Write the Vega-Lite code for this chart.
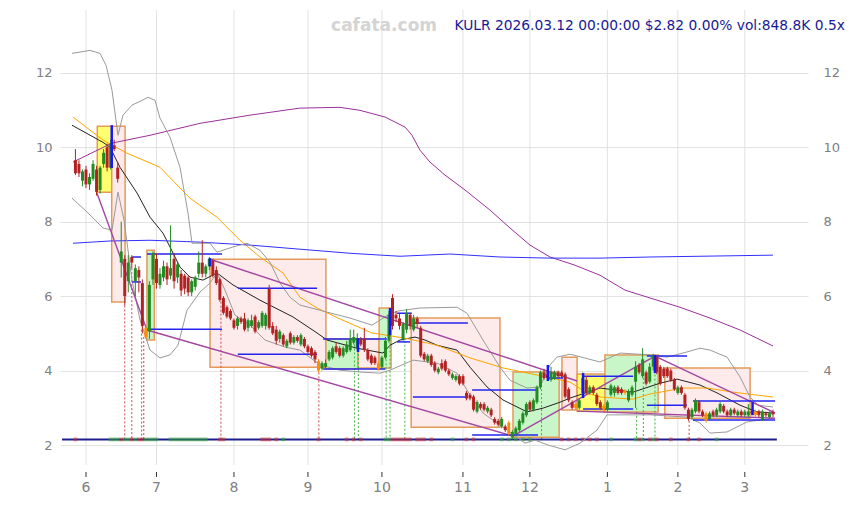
{
"$schema": "https://vega.github.io/schema/vega-lite/v6.json",
"width": 748, "height": 455,
"autosize": {"type": "none"},
"padding": {"left": 60, "top": 10, "right": 46, "bottom": 40},
"background": "white",
"config": {"view": {"stroke": null}, "font": "DejaVu Sans", "scale": {"continuousPadding": 0}},
"datasets": {
"months": [{"k":0,"m":"6"},{"k":20,"m":"7"},{"k":42,"m":"8"},{"k":63,"m":"9"},{"k":84,"m":"10"},{"k":107,"m":"11"},{"k":126,"m":"12"},{"k":148,"m":"1"},{"k":168,"m":"2"},{"k":187,"m":"3"}],
"candles": [
{"k":-3,"o":9.65,"h":9.95,"l":9.25,"c":9.3},{"k":-2,"o":9.55,"h":9.65,"l":9.2,"c":9.3},{"k":-1,"o":9.1,"h":9.4,"l":8.95,"c":9.35},{"k":0,"o":9.4,"h":9.5,"l":8.9,"c":9.0},{"k":1,"o":9.0,"h":9.3,"l":8.85,"c":9.2},{"k":2,"o":9.15,"h":9.65,"l":9.1,"c":9.55},{"k":3,"o":9.4,"h":9.5,"l":8.7,"c":8.8},{"k":4,"o":8.85,"h":9.5,"l":8.75,"c":9.45},{"k":5,"o":9.55,"h":9.95,"l":9.45,"c":9.85},{"k":6,"o":10.0,"h":10.1,"l":9.35,"c":9.45},{"k":7,"o":9.45,"h":10.2,"l":9.4,"c":10.1},{"k":8,"o":10.05,"h":10.2,"l":9.9,"c":9.95},{"k":9,"o":9.45,"h":9.6,"l":9.05,"c":9.15},
{"k":10,"o":6.9,"h":8.0,"l":6.5,"c":7.2},{"k":11,"o":7.0,"h":7.1,"l":5.75,"c":6.0},{"k":12,"o":6.4,"h":7.1,"l":6.1,"c":6.9},{"k":13,"o":7.05,"h":7.1,"l":6.75,"c":6.9},{"k":14,"o":6.4,"h":6.85,"l":6.0,"c":6.75},{"k":15,"o":6.7,"h":6.8,"l":6.1,"c":6.5},{"k":16,"o":6.35,"h":6.45,"l":5.0,"c":5.2},{"k":17,"o":5.15,"h":5.2,"l":4.85,"c":4.9,"x":1},{"k":18,"o":5.05,"h":6.4,"l":4.85,"c":6.3},{"k":19,"o":6.45,"h":7.2,"l":6.3,"c":7.15},
{"k":20,"o":7.0,"h":7.15,"l":6.2,"c":6.35},{"k":21,"o":6.3,"h":6.75,"l":6.2,"c":6.6},{"k":22,"o":6.5,"h":6.95,"l":6.4,"c":6.8},{"k":23,"o":6.8,"h":6.9,"l":6.3,"c":6.45},{"k":24,"o":6.55,"h":7.9,"l":6.45,"c":6.75},{"k":25,"o":7.0,"h":7.15,"l":6.2,"c":6.4},{"k":26,"o":6.5,"h":6.9,"l":6.35,"c":6.85},{"k":27,"o":6.6,"h":6.7,"l":6.0,"c":6.15},{"k":28,"o":6.55,"h":6.6,"l":6.05,"c":6.2},{"k":29,"o":6.5,"h":6.55,"l":6.0,"c":6.1},
{"k":30,"o":6.1,"h":6.45,"l":6.0,"c":6.4},{"k":31,"o":6.25,"h":6.55,"l":6.15,"c":6.5},{"k":32,"o":6.6,"h":7.2,"l":6.5,"c":6.9},{"k":33,"o":6.9,"h":7.5,"l":6.5,"c":6.6},{"k":34,"o":6.6,"h":6.85,"l":6.5,"c":6.8},{"k":35,"o":6.8,"h":7.05,"l":6.7,"c":7.0},{"k":36,"o":6.95,"h":7.0,"l":6.5,"c":6.55},{"k":37,"o":6.7,"h":6.8,"l":6.3,"c":6.35},{"k":38,"o":6.45,"h":6.5,"l":5.85,"c":5.9},{"k":39,"o":5.95,"h":6.0,"l":5.5,"c":5.55},
{"k":40,"o":5.7,"h":5.75,"l":5.4,"c":5.45},{"k":41,"o":5.6,"h":5.65,"l":5.35,"c":5.4},{"k":42,"o":5.35,"h":5.4,"l":5.1,"c":5.15},{"k":43,"o":5.2,"h":5.45,"l":5.1,"c":5.4},{"k":44,"o":5.4,"h":5.45,"l":5.25,"c":5.3},{"k":45,"o":5.4,"h":5.55,"l":5.05,"c":5.1},{"k":46,"o":5.15,"h":5.4,"l":5.05,"c":5.35},{"k":47,"o":5.2,"h":5.5,"l":5.15,"c":5.35},{"k":48,"o":5.45,"h":5.5,"l":5.0,"c":5.05},{"k":49,"o":5.15,"h":5.35,"l":5.1,"c":5.3},
{"k":50,"o":5.2,"h":5.6,"l":5.15,"c":5.55},{"k":51,"o":5.2,"h":5.55,"l":5.1,"c":5.5},{"k":52,"o":6.2,"h":6.3,"l":5.1,"c":5.15},{"k":53,"o":5.2,"h":5.3,"l":4.95,"c":5.0},{"k":54,"o":5.1,"h":5.2,"l":4.7,"c":4.8},{"k":55,"o":4.85,"h":5.1,"l":4.75,"c":5.05},{"k":56,"o":4.95,"h":5.0,"l":4.65,"c":4.7},{"k":57,"o":4.65,"h":4.85,"l":4.6,"c":4.8},{"k":58,"o":5.0,"h":5.05,"l":4.7,"c":4.75},{"k":59,"o":4.75,"h":4.95,"l":4.7,"c":4.9},
{"k":60,"o":4.9,"h":4.95,"l":4.75,"c":4.8},{"k":61,"o":4.7,"h":5.0,"l":4.65,"c":4.95},{"k":62,"o":4.85,"h":4.9,"l":4.6,"c":4.65},{"k":63,"o":4.65,"h":4.7,"l":4.45,"c":4.5},{"k":64,"o":4.6,"h":4.65,"l":4.35,"c":4.4},{"k":65,"o":4.5,"h":4.55,"l":4.2,"c":4.3},{"k":66,"o":4.25,"h":4.3,"l":3.95,"c":4.0,"x":1},{"k":67,"o":4.05,"h":4.25,"l":4.0,"c":4.2},{"k":68,"o":4.1,"h":4.3,"l":4.05,"c":4.2},{"k":69,"o":4.3,"h":4.55,"l":4.25,"c":4.5},
{"k":70,"o":4.35,"h":4.65,"l":4.3,"c":4.6},{"k":71,"o":4.65,"h":4.75,"l":4.45,"c":4.5},{"k":72,"o":4.6,"h":4.65,"l":4.35,"c":4.4},{"k":73,"o":4.4,"h":4.65,"l":4.35,"c":4.6},{"k":74,"o":4.5,"h":4.8,"l":4.45,"c":4.7},{"k":75,"o":4.55,"h":5.1,"l":4.5,"c":4.85},{"k":76,"o":4.75,"h":5.1,"l":4.7,"c":4.9},{"k":77,"o":4.6,"h":5.0,"l":4.55,"c":4.85},{"k":78,"o":4.85,"h":4.9,"l":4.65,"c":4.7},{"k":79,"o":4.85,"h":5.15,"l":4.5,"c":4.55},
{"k":80,"o":4.55,"h":4.6,"l":4.25,"c":4.3},{"k":81,"o":4.4,"h":4.45,"l":4.15,"c":4.2},{"k":82,"o":4.35,"h":4.4,"l":4.15,"c":4.2},{"k":83,"o":4.2,"h":4.25,"l":4.0,"c":4.05,"x":1},{"k":84,"o":4.1,"h":4.4,"l":4.05,"c":4.35},{"k":85,"o":4.35,"h":4.9,"l":4.3,"c":4.8},{"k":86,"o":4.8,"h":5.6,"l":4.75,"c":5.5},{"k":87,"o":5.95,"h":6.05,"l":5.1,"c":5.2},{"k":88,"o":5.5,"h":5.6,"l":5.3,"c":5.4},{"k":89,"o":5.4,"h":5.55,"l":5.1,"c":5.2},
{"k":90,"o":4.85,"h":5.3,"l":4.8,"c":5.25},{"k":91,"o":5.1,"h":5.65,"l":5.0,"c":5.55},{"k":92,"o":5.5,"h":5.55,"l":5.1,"c":5.2},{"k":93,"o":5.1,"h":5.5,"l":5.05,"c":5.4},{"k":94,"o":5.4,"h":5.45,"l":5.15,"c":5.25},{"k":95,"o":5.15,"h":5.2,"l":4.35,"c":4.4},{"k":96,"o":4.45,"h":4.5,"l":4.25,"c":4.3},{"k":97,"o":4.25,"h":4.45,"l":4.2,"c":4.4},{"k":98,"o":4.4,"h":4.45,"l":4.1,"c":4.15},{"k":99,"o":4.2,"h":4.25,"l":3.95,"c":4.0},
{"k":100,"o":3.95,"h":4.1,"l":3.9,"c":4.05},{"k":101,"o":4.2,"h":4.3,"l":4.0,"c":4.05},{"k":102,"o":4.25,"h":4.3,"l":3.95,"c":4.0},{"k":103,"o":4.0,"h":4.05,"l":3.85,"c":3.9},{"k":104,"o":3.8,"h":3.95,"l":3.75,"c":3.9},{"k":105,"o":3.75,"h":3.9,"l":3.7,"c":3.85},{"k":106,"o":3.85,"h":3.9,"l":3.6,"c":3.65},{"k":107,"o":3.85,"h":3.9,"l":3.6,"c":3.65},{"k":108,"o":3.4,"h":3.45,"l":3.2,"c":3.25},{"k":109,"o":3.35,"h":3.4,"l":3.2,"c":3.25},
{"k":110,"o":3.3,"h":3.35,"l":2.9,"c":2.95},{"k":111,"o":2.9,"h":3.2,"l":2.85,"c":3.15},{"k":112,"o":3.1,"h":3.15,"l":2.95,"c":3.0},{"k":113,"o":3.1,"h":3.15,"l":2.9,"c":2.95},{"k":114,"o":2.9,"h":3.05,"l":2.85,"c":3.0},{"k":115,"o":2.95,"h":3.0,"l":2.75,"c":2.8},{"k":116,"o":2.7,"h":2.75,"l":2.55,"c":2.6},{"k":117,"o":2.65,"h":2.7,"l":2.5,"c":2.55},{"k":118,"o":2.5,"h":2.75,"l":2.45,"c":2.7},{"k":119,"o":2.5,"h":2.55,"l":2.35,"c":2.4},
{"k":120,"o":2.6,"h":2.65,"l":2.25,"c":2.3,"x":1},{"k":121,"o":2.2,"h":2.4,"l":2.15,"c":2.35},{"k":122,"o":2.3,"h":2.5,"l":2.25,"c":2.45},{"k":123,"o":2.4,"h":2.7,"l":2.35,"c":2.65},{"k":124,"o":2.6,"h":2.9,"l":2.55,"c":2.85},{"k":125,"o":2.8,"h":3.15,"l":2.75,"c":3.1},{"k":126,"o":3.15,"h":3.2,"l":2.9,"c":2.95},{"k":127,"o":2.95,"h":3.25,"l":2.9,"c":3.2},{"k":128,"o":3.15,"h":3.6,"l":3.1,"c":3.55},{"k":129,"o":3.55,"h":4.0,"l":3.5,"c":3.95},
{"k":130,"o":3.95,"h":4.05,"l":3.75,"c":3.8},{"k":131,"o":3.9,"h":4.0,"l":3.75,"c":3.8},{"k":132,"o":3.75,"h":4.1,"l":3.7,"c":3.95},{"k":133,"o":3.8,"h":4.0,"l":3.75,"c":3.95},{"k":134,"o":3.95,"h":4.0,"l":3.8,"c":3.85},{"k":135,"o":3.95,"h":4.0,"l":3.8,"c":3.85},{"k":136,"o":3.9,"h":3.95,"l":3.25,"c":3.3},{"k":137,"o":3.5,"h":3.55,"l":3.15,"c":3.2},{"k":138,"o":3.15,"h":3.2,"l":2.95,"c":3.0},{"k":139,"o":3.1,"h":3.15,"l":2.95,"c":3.0,"x":1},
{"k":140,"o":3.0,"h":3.25,"l":2.95,"c":3.2},{"k":141,"o":3.4,"h":3.95,"l":3.35,"c":3.8},{"k":142,"o":3.75,"h":3.85,"l":3.35,"c":3.4},{"k":143,"o":3.4,"h":3.6,"l":3.35,"c":3.55},{"k":144,"o":3.55,"h":3.6,"l":3.35,"c":3.4},{"k":145,"o":3.35,"h":3.4,"l":3.05,"c":3.1},{"k":146,"o":3.15,"h":3.2,"l":2.95,"c":3.0},{"k":147,"o":3.05,"h":3.1,"l":2.9,"c":2.95,"x":1},{"k":148,"o":2.95,"h":3.2,"l":2.9,"c":3.15},{"k":149,"o":3.35,"h":3.65,"l":3.3,"c":3.6},
{"k":150,"o":3.4,"h":3.6,"l":3.3,"c":3.55},{"k":151,"o":3.55,"h":3.6,"l":3.35,"c":3.4},{"k":152,"o":3.5,"h":3.55,"l":3.35,"c":3.4},{"k":153,"o":3.45,"h":3.5,"l":3.35,"c":3.4,"x":1},{"k":154,"o":3.2,"h":3.5,"l":3.15,"c":3.45},{"k":155,"o":3.35,"h":3.6,"l":3.3,"c":3.55},{"k":156,"o":3.7,"h":4.25,"l":3.0,"c":4.1},{"k":157,"o":4.15,"h":4.2,"l":3.9,"c":3.95},{"k":158,"o":3.85,"h":4.6,"l":3.8,"c":4.3},{"k":159,"o":3.95,"h":4.0,"l":3.6,"c":3.65},
{"k":160,"o":3.7,"h":4.2,"l":3.65,"c":4.1},{"k":161,"o":4.1,"h":4.45,"l":4.0,"c":4.4},{"k":162,"o":4.35,"h":4.4,"l":3.9,"c":3.95},{"k":163,"o":4.1,"h":4.15,"l":3.6,"c":3.65},{"k":164,"o":4.05,"h":4.1,"l":3.8,"c":3.85},{"k":165,"o":4.05,"h":4.1,"l":3.8,"c":3.85},{"k":166,"o":4.0,"h":4.05,"l":3.7,"c":3.75},{"k":167,"o":3.75,"h":3.8,"l":3.45,"c":3.5},{"k":168,"o":3.4,"h":3.6,"l":3.35,"c":3.55},{"k":169,"o":3.55,"h":3.6,"l":3.35,"c":3.4},
{"k":170,"o":3.35,"h":3.4,"l":2.95,"c":3.0},{"k":171,"o":2.95,"h":3.0,"l":2.65,"c":2.7},{"k":172,"o":2.75,"h":3.0,"l":2.7,"c":2.95},{"k":173,"o":2.9,"h":3.25,"l":2.85,"c":3.2},{"k":174,"o":3.15,"h":3.2,"l":2.85,"c":2.9},{"k":175,"o":2.9,"h":2.95,"l":2.75,"c":2.8},{"k":176,"o":2.85,"h":2.9,"l":2.6,"c":2.65,"x":1},{"k":177,"o":2.7,"h":2.9,"l":2.65,"c":2.85},{"k":178,"o":2.9,"h":2.95,"l":2.75,"c":2.8},{"k":179,"o":2.8,"h":3.0,"l":2.75,"c":2.95},
{"k":180,"o":2.9,"h":3.15,"l":2.85,"c":3.1},{"k":181,"o":3.05,"h":3.1,"l":2.85,"c":2.9},{"k":182,"o":2.9,"h":2.95,"l":2.75,"c":2.8},{"k":183,"o":2.8,"h":3.0,"l":2.75,"c":2.95},{"k":184,"o":2.95,"h":3.0,"l":2.8,"c":2.85},{"k":185,"o":2.8,"h":2.95,"l":2.75,"c":2.9},{"k":186,"o":2.9,"h":2.95,"l":2.75,"c":2.8},{"k":187,"o":2.8,"h":2.95,"l":2.75,"c":2.9},{"k":188,"o":2.8,"h":3.1,"l":2.75,"c":2.9},{"k":189,"o":2.9,"h":2.95,"l":2.8,"c":2.85},
{"k":190,"o":2.9,"h":2.95,"l":2.75,"c":2.8,"x":1},{"k":191,"o":2.9,"h":2.95,"l":2.75,"c":2.8},{"k":192,"o":2.7,"h":2.95,"l":2.65,"c":2.9},{"k":193,"o":2.85,"h":2.9,"l":2.75,"c":2.8},{"k":194,"o":2.75,"h":2.9,"l":2.7,"c":2.85},{"k":195,"o":2.88,"h":2.95,"l":2.75,"c":2.82}
],
"lines": [
{"s":"m20","k":-3.97,"v":10.59},{"s":"m20","k":4.83,"v":10.13},{"s":"m20","k":6.81,"v":10.0},{"s":"m20","k":9.65,"v":9.46},{"s":"m20","k":14.48,"v":8.77},{"s":"m20","k":18.17,"v":8.12},{"s":"m20","k":21.86,"v":7.69},{"s":"m20","k":23.84,"v":7.32},{"s":"m20","k":26.68,"v":6.78},{"s":"m20","k":29.52,"v":6.51},{"s":"m20","k":33.21,"v":6.43},{"s":"m20","k":37.18,"v":6.62},{"s":"m20","k":41.73,"v":6.3},{"s":"m20","k":49.39,"v":5.89},{"s":"m20","k":58.76,"v":5.44},{"s":"m20","k":65.57,"v":5.01},{"s":"m20","k":68.41,"v":4.82},{"s":"m20","k":76.92,"v":4.6},{"s":"m20","k":84.3,"v":4.47},{"s":"m20","k":86.29,"v":4.68},{"s":"m20","k":89.13,"v":4.82},{"s":"m20","k":93.39,"v":4.9},{"s":"m20","k":96.22,"v":4.82},{"s":"m20","k":99.63,"v":4.68},{"s":"m20","k":105.31,"v":4.55},{"s":"m20","k":109.0,"v":4.09},{"s":"m20","k":113.82,"v":3.56},{"s":"m20","k":118.37,"v":3.21},{"s":"m20","k":125.18,"v":2.89},{"s":"m20","k":129.72,"v":2.99},{"s":"m20","k":134.55,"v":3.15},{"s":"m20","k":137.38,"v":3.26},{"s":"m20","k":145.9,"v":3.53},{"s":"m20","k":155.27,"v":3.42},{"s":"m20","k":162.93,"v":3.66},{"s":"m20","k":167.76,"v":3.77},{"s":"m20","k":174.28,"v":3.61},{"s":"m20","k":179.11,"v":3.4},{"s":"m20","k":185.64,"v":3.07},{"s":"m20","k":190.46,"v":2.89},{"s":"m20","k":195.0,"v":2.86},
{"s":"m50","k":-3.69,"v":10.81},{"s":"m50","k":4.83,"v":10.19},{"s":"m50","k":11.64,"v":9.84},{"s":"m50","k":21.0,"v":9.46},{"s":"m50","k":29.52,"v":8.63},{"s":"m50","k":37.18,"v":8.12},{"s":"m50","k":43.71,"v":7.5},{"s":"m50","k":49.39,"v":7.05},{"s":"m50","k":55.92,"v":6.62},{"s":"m50","k":60.74,"v":5.97},{"s":"m50","k":65.57,"v":5.68},{"s":"m50","k":71.53,"v":5.41},{"s":"m50","k":81.18,"v":5.01},{"s":"m50","k":90.55,"v":4.87},{"s":"m50","k":99.63,"v":4.68},{"s":"m50","k":109.0,"v":4.34},{"s":"m50","k":118.37,"v":4.07},{"s":"m50","k":128.02,"v":3.88},{"s":"m50","k":137.38,"v":3.69},{"s":"m50","k":142.21,"v":3.4},{"s":"m50","k":145.9,"v":3.29},{"s":"m50","k":155.27,"v":3.23},{"s":"m50","k":160.09,"v":3.37},{"s":"m50","k":169.46,"v":3.53},{"s":"m50","k":176.27,"v":3.53},{"s":"m50","k":183.65,"v":3.42},{"s":"m50","k":190.46,"v":3.34},{"s":"m50","k":195.0,"v":3.29},
{"s":"m200","k":-3.69,"v":9.6},{"s":"m200","k":7.38,"v":10.11},{"s":"m200","k":18.17,"v":10.32},{"s":"m200","k":32.36,"v":10.64},{"s":"m200","k":46.55,"v":10.86},{"s":"m200","k":60.74,"v":11.05},{"s":"m200","k":72.1,"v":11.07},{"s":"m200","k":77.77,"v":10.99},{"s":"m200","k":84.87,"v":10.81},{"s":"m200","k":90.55,"v":10.54},{"s":"m200","k":92.53,"v":10.32},{"s":"m200","k":94.81,"v":9.92},{"s":"m200","k":97.64,"v":9.6},{"s":"m200","k":101.9,"v":9.25},{"s":"m200","k":107.58,"v":8.85},{"s":"m200","k":114.68,"v":8.31},{"s":"m200","k":120.35,"v":7.83},{"s":"m200","k":126.03,"v":7.37},{"s":"m200","k":131.71,"v":7.05},{"s":"m200","k":138.8,"v":6.83},{"s":"m200","k":145.9,"v":6.56},{"s":"m200","k":153.0,"v":6.16},{"s":"m200","k":160.09,"v":5.95},{"s":"m200","k":168.61,"v":5.7},{"s":"m200","k":177.12,"v":5.41},{"s":"m200","k":185.64,"v":5.09},{"s":"m200","k":195.0,"v":4.66},
{"s":"mb","k":-3.69,"v":7.42},{"s":"mb","k":6.81,"v":7.48},{"s":"mb","k":18.17,"v":7.5},{"s":"mb","k":32.36,"v":7.45},{"s":"mb","k":46.55,"v":7.37},{"s":"mb","k":60.74,"v":7.26},{"s":"mb","k":74.94,"v":7.15},{"s":"mb","k":89.13,"v":7.07},{"s":"mb","k":103.3,"v":7.13},{"s":"mb","k":117.51,"v":7.05},{"s":"mb","k":131.71,"v":7.02},{"s":"mb","k":145.9,"v":7.02},{"s":"mb","k":160.09,"v":7.05},{"s":"mb","k":174.28,"v":7.07},{"s":"mb","k":195.0,"v":7.1},
{"s":"bu","k":-3.97,"v":12.52},{"s":"bu","k":1.14,"v":12.6},{"s":"bu","k":3.97,"v":12.52},{"s":"bu","k":5.68,"v":12.2},{"s":"bu","k":7.38,"v":11.53},{"s":"bu","k":9.08,"v":10.32},{"s":"bu","k":10.5,"v":10.86},{"s":"bu","k":13.06,"v":11.13},{"s":"bu","k":15.33,"v":11.23},{"s":"bu","k":17.6,"v":11.34},{"s":"bu","k":19.59,"v":11.26},{"s":"bu","k":21.0,"v":10.78},{"s":"bu","k":23.84,"v":10.27},{"s":"bu","k":26.68,"v":9.46},{"s":"bu","k":28.95,"v":8.23},{"s":"bu","k":30.09,"v":7.42},{"s":"bu","k":35.2,"v":7.42},{"s":"bu","k":37.18,"v":7.18},{"s":"bu","k":41.73,"v":7.32},{"s":"bu","k":45.7,"v":7.42},{"s":"bu","k":49.39,"v":7.23},{"s":"bu","k":52.23,"v":6.91},{"s":"bu","k":55.07,"v":6.35},{"s":"bu","k":57.91,"v":5.97},{"s":"bu","k":60.74,"v":5.76},{"s":"bu","k":68.41,"v":5.57},{"s":"bu","k":74.94,"v":5.41},{"s":"bu","k":81.18,"v":5.22},{"s":"bu","k":85.72,"v":5.49},{"s":"bu","k":88.56,"v":5.6},{"s":"bu","k":94.81,"v":5.68},{"s":"bu","k":105.31,"v":5.7},{"s":"bu","k":108.15,"v":5.54},{"s":"bu","k":112.69,"v":4.82},{"s":"bu","k":117.51,"v":4.09},{"s":"bu","k":120.35,"v":3.74},{"s":"bu","k":125.18,"v":3.53},{"s":"bu","k":128.87,"v":3.56},{"s":"bu","k":131.71,"v":4.15},{"s":"bu","k":133.69,"v":4.36},{"s":"bu","k":137.38,"v":4.44},{"s":"bu","k":145.9,"v":4.23},{"s":"bu","k":151.58,"v":4.47},{"s":"bu","k":160.09,"v":4.42},{"s":"bu","k":164.92,"v":4.36},{"s":"bu","k":170.59,"v":4.5},{"s":"bu","k":174.28,"v":4.6},{"s":"bu","k":177.12,"v":4.55},{"s":"bu","k":181.95,"v":4.36},{"s":"bu","k":185.64,"v":3.83},{"s":"bu","k":188.48,"v":3.29},{"s":"bu","k":190.75,"v":3.07},{"s":"bu","k":195.0,"v":3.02},
{"s":"bl","k":-3.97,"v":8.63},{"s":"bl","k":0.28,"v":8.26},{"s":"bl","k":4.83,"v":7.83},{"s":"bl","k":7.38,"v":7.77},{"s":"bl","k":9.08,"v":8.79},{"s":"bl","k":10.79,"v":8.04},{"s":"bl","k":13.06,"v":6.43},{"s":"bl","k":15.33,"v":5.36},{"s":"bl","k":18.17,"v":4.55},{"s":"bl","k":21.0,"v":4.34},{"s":"bl","k":23.84,"v":4.42},{"s":"bl","k":26.11,"v":4.68},{"s":"bl","k":28.67,"v":5.62},{"s":"bl","k":32.36,"v":6.11},{"s":"bl","k":35.2,"v":6.35},{"s":"bl","k":37.18,"v":6.62},{"s":"bl","k":39.45,"v":6.16},{"s":"bl","k":42.29,"v":5.49},{"s":"bl","k":46.55,"v":5.22},{"s":"bl","k":50.81,"v":4.82},{"s":"bl","k":56.49,"v":4.63},{"s":"bl","k":60.74,"v":4.55},{"s":"bl","k":66.42,"v":4.15},{"s":"bl","k":72.1,"v":4.01},{"s":"bl","k":77.77,"v":3.96},{"s":"bl","k":83.45,"v":3.93},{"s":"bl","k":86.29,"v":4.01},{"s":"bl","k":92.82,"v":4.28},{"s":"bl","k":99.63,"v":4.2},{"s":"bl","k":105.31,"v":3.93},{"s":"bl","k":109.0,"v":3.34},{"s":"bl","k":112.69,"v":2.86},{"s":"bl","k":116.66,"v":2.59},{"s":"bl","k":120.35,"v":2.35},{"s":"bl","k":122.34,"v":2.21},{"s":"bl","k":124.61,"v":2.05},{"s":"bl","k":127.45,"v":2.13},{"s":"bl","k":131.14,"v":2.0},{"s":"bl","k":135.96,"v":1.87},{"s":"bl","k":140.22,"v":2.05},{"s":"bl","k":145.05,"v":2.4},{"s":"bl","k":147.89,"v":2.81},{"s":"bl","k":160.09,"v":2.81},{"s":"bl","k":170.59,"v":2.75},{"s":"bl","k":174.28,"v":2.59},{"s":"bl","k":177.12,"v":2.32},{"s":"bl","k":181.95,"v":2.35},{"s":"bl","k":187.62,"v":2.62},{"s":"bl","k":195.0,"v":2.72}
],
"boxes": [
{"t":"y","k":3.2,"k2":7.3,"v":10.56,"v2":8.79},{"t":"p","k":7.3,"k2":11.1,"v":10.56,"v2":5.84},{"t":"g","k":17.3,"k2":19.4,"v":7.23,"v2":4.82},{"t":"p","k":35.2,"k2":68.1,"v":6.99,"v2":4.09},{"t":"g","k":68.1,"k2":77.2,"v":4.85,"v2":4.04},{"t":"p","k":77.2,"k2":83.2,"v":4.85,"v2":4.07},{"t":"g","k":83.2,"k2":86.6,"v":5.68,"v2":4.07},{"t":"p","k":92.3,"k2":117.5,"v":5.41,"v2":2.48},{"t":"g","k":121.2,"k2":134.3,"v":3.96,"v2":2.21},{"t":"p","k":135.1,"k2":139.4,"v":4.36,"v2":2.94},{"t":"y","k":139.4,"k2":147.9,"v":3.91,"v2":2.91},{"t":"g","k":147.3,"k2":162.4,"v":4.42,"v2":2.89},{"t":"p","k":164.3,"k2":188.5,"v":4.07,"v2":2.72}
],
"hsegs": [
{"k":13.1,"k2":15.6,"v":7.05},{"k":13.1,"k2":15.6,"v":6.38},{"k":17.3,"k2":38.6,"v":7.13},{"k":17.3,"k2":38.6,"v":5.11},{"k":43.1,"k2":65.6,"v":6.21},{"k":43.1,"k2":65.6,"v":4.44},{"k":67.3,"k2":85.4,"v":4.85},{"k":67.3,"k2":85.0,"v":4.04},{"k":88.3,"k2":92.5,"v":5.54},{"k":88.3,"k2":92.0,"v":4.77},{"k":92.8,"k2":108.4,"v":5.28},{"k":92.8,"k2":108.1,"v":3.29},{"k":109.6,"k2":128.3,"v":3.48},{"k":109.6,"k2":128.3,"v":2.27},{"k":131.1,"k2":135.4,"v":3.8},{"k":141.1,"k2":155.3,"v":3.85},{"k":141.1,"k2":155.3,"v":2.97},{"k":159.2,"k2":170.6,"v":4.39},{"k":159.2,"k2":170.6,"v":3.07},{"k":172.3,"k2":195.6,"v":3.18},{"k":172.3,"k2":195.6,"v":2.67}
],
"vmarks": [
{"k":7.3,"v":10.59,"v2":9.44},{"k":35.2,"v":7.02,"v2":6.8},{"k":77.2,"v":4.87,"v2":4.5},{"k":86.3,"v":5.68,"v2":4.95},{"k":131.1,"v":4.15,"v2":3.72},{"k":141.1,"v":3.93,"v2":3.26},{"k":161.5,"v":4.42,"v2":3.93},{"k":189.2,"v":3.15,"v2":2.8}
],
"trends": [
{"g":"a","k":3.1,"v":8.77},{"g":"a","k":17.3,"v":5.09},{"g":"b","k":17.3,"v":5.09},{"g":"b","k":121.2,"v":2.24},{"g":"c","k":35.2,"v":6.99},{"g":"c","k":139.4,"v":3.72},{"g":"d","k":121.2,"v":2.24},{"g":"d","k":161.5,"v":4.39},{"g":"e","k":161.5,"v":4.39},{"g":"e","k":195.6,"v":2.86},{"g":"f","k":139.4,"v":2.91},{"g":"f","k":195.6,"v":2.72}
],
"dots": [
{"t":"r","k":11,"v":5.75},{"t":"r","k":13,"v":6.75},{"t":"r","k":15.8,"v":5.1},{"t":"r","k":16.4,"v":4.9},{"t":"r","k":38.3,"v":5.85},{"t":"r","k":66.1,"v":3.95},{"t":"r","k":171.2,"v":2.65},
{"t":"g","k":76.2,"v":4.7},{"t":"g","k":77.3,"v":4.55},{"t":"g","k":85.2,"v":4.3},{"t":"g","k":86.3,"v":4.75},{"t":"g","k":90.5,"v":4.8},{"t":"g","k":129.3,"v":3.5},{"t":"g","k":156.3,"v":3.0},{"t":"g","k":158.2,"v":3.8},{"t":"g","k":161.5,"v":4.0}
],
"vol": [
{"k":-3,"u":0},{"k":7,"u":1},{"k":8,"u":1},{"k":9,"u":1},{"k":10,"u":0},{"k":11,"u":1},{"k":12,"u":1},{"k":13,"u":0},{"k":14,"u":1},{"k":15,"u":0},{"k":16,"u":0},{"k":17,"u":1},{"k":18,"u":1},{"k":19,"u":1},{"k":20,"u":1},{"k":24,"u":1},{"k":25,"u":1},{"k":26,"u":1},{"k":27,"u":1},{"k":28,"u":1},{"k":29,"u":1},{"k":30,"u":1},{"k":31,"u":1},{"k":32,"u":1},{"k":33,"u":1},{"k":34,"u":1},{"k":38,"u":0},{"k":39,"u":0},{"k":50,"u":0},{"k":51,"u":0},{"k":52,"u":0},{"k":54,"u":0},{"k":56,"u":1},{"k":66,"u":0},{"k":74,"u":0},{"k":76,"u":0},{"k":78,"u":0},{"k":85,"u":1},{"k":86,"u":1},{"k":87,"u":0},{"k":88,"u":0},{"k":89,"u":0},{"k":90,"u":0},{"k":91,"u":0},{"k":92,"u":0},{"k":94,"u":0},{"k":95,"u":0},{"k":96,"u":0},{"k":98,"u":0},{"k":104,"u":1},{"k":108,"u":0},{"k":110,"u":0},{"k":118,"u":1},{"k":120,"u":1},{"k":122,"u":1},{"k":124,"u":1},{"k":126,"u":1},{"k":135,"u":0},{"k":137,"u":0},{"k":139,"u":0},{"k":141,"u":0},{"k":143,"u":0},{"k":145,"u":0},{"k":149,"u":1},{"k":156,"u":1},{"k":157,"u":0},{"k":158,"u":1},{"k":160,"u":0},{"k":161,"u":1},{"k":162,"u":0},{"k":166,"u":0},{"k":171,"u":0},{"k":174,"u":0},{"k":179,"u":1}
]
},
"layer": [
{
"data": {"name": "months"},
"mark": {"type": "rule", "color": "#e2e2e2", "strokeWidth": 1},
"encoding": {
"x": {"field": "k", "type": "quantitative", "scale": {"domain": [-7.38, 204.94], "nice": false, "zero": false, "padding": 0}, "axis": null}
}
},
{
"data": {"name": "months"},
"mark": {"type": "rule", "color": "#333333", "strokeWidth": 1},
"encoding": {
"x": {"field": "k", "type": "quantitative", "scale": {"domain": [-7.38, 204.94], "nice": false, "zero": false, "padding": 0}, "axis": null},
"y": {"datum": 1.275, "type": "quantitative", "scale": {"domain": [1.463, 13.685], "nice": false, "zero": false}, "axis": null},
"y2": {"datum": 1.141}
}
},
{
"data": {"name": "months"},
"mark": {"type": "text", "baseline": "middle", "align": "center", "font": "DejaVu Sans", "fontSize": 14, "color": "#808080"},
"encoding": {
"x": {"field": "k", "type": "quantitative", "scale": {"domain": [-7.38, 204.94], "nice": false, "zero": false, "padding": 0}, "axis": null},
"y": {"datum": 0.85, "type": "quantitative", "scale": {"domain": [1.463, 13.685], "nice": false, "zero": false}, "axis": null},
"text": {"field": "m"}
}
},
{
"data": {"name": "boxes"},
"mark": {"type": "rect", "stroke": "#e59a5a", "strokeWidth": 1.5},
"encoding": {
"x": {"field": "k", "type": "quantitative", "scale": {"domain": [-7.38, 204.94], "nice": false, "zero": false, "padding": 0}, "axis": null},
"x2": {"field": "k2"},
"y": {"field": "v", "type": "quantitative", "scale": {"domain": [1.463, 13.685], "nice": false, "zero": false}, "axis": null},
"y2": {"field": "v2"},
"fill": {"field": "t", "type": "nominal", "scale": {"domain": ["y","p","g"], "range": ["#ffff70","#fdeaea","#c8f6c8"]}, "legend": null}
}
},
{
"data": {"name": "dots"},
"mark": {"type": "rule", "strokeWidth": 1, "strokeDash": [2, 2]},
"encoding": {
"x": {"field": "k", "type": "quantitative", "scale": {"domain": [-7.38, 204.94], "nice": false, "zero": false, "padding": 0}, "axis": null},
"y": {"field": "v", "type": "quantitative", "scale": {"domain": [1.463, 13.685], "nice": false, "zero": false}, "axis": null},
"y2": {"datum": 2.15},
"stroke": {"field": "t", "type": "nominal", "scale": {"domain": ["r","g"], "range": ["#d04545","#40b040"]}, "legend": null}
}
},
{
"data": {"values": [{"k": -6.8, "k2": 196.1, "v": 2.15}]},
"mark": {"type": "rule", "color": "#1e1e90", "strokeWidth": 2},
"encoding": {
"x": {"field": "k", "type": "quantitative", "scale": {"domain": [-7.38, 204.94], "nice": false, "zero": false, "padding": 0}, "axis": null},
"x2": {"field": "k2"},
"y": {"field": "v", "type": "quantitative", "scale": {"domain": [1.463, 13.685], "nice": false, "zero": false}, "axis": null}
}
},
{
"data": {"name": "vol"},
"mark": {"type": "square", "size": 14, "opacity": 0.55},
"encoding": {
"x": {"field": "k", "type": "quantitative", "scale": {"domain": [-7.38, 204.94], "nice": false, "zero": false, "padding": 0}, "axis": null},
"y": {"datum": 2.15, "type": "quantitative", "scale": {"domain": [1.463, 13.685], "nice": false, "zero": false}, "axis": null},
"color": {"field": "u", "type": "nominal", "scale": {"domain": [0, 1], "range": ["#cc3333","#33aa33"]}, "legend": null}
}
},
{
"data": {"name": "lines"},
"mark": {"type": "line", "strokeWidth": 1},
"encoding": {
"x": {"field": "k", "type": "quantitative", "scale": {"domain": [-7.38, 204.94], "nice": false, "zero": false, "padding": 0}, "axis": null},
"y": {"field": "v", "type": "quantitative", "scale": {"domain": [1.463, 13.685], "nice": false, "zero": false}, "axis": null},
"stroke": {"field": "s", "type": "nominal", "scale": {"domain": ["bu","bl","m20","m50","m200","mb"], "range": ["#9a9a9a","#9a9a9a","#222222","#ffa500","#9b309b","#3030ff"]}, "legend": null},
"detail": {"field": "s"},
"order": {"field": "k", "type": "quantitative"}
}
},
{
"data": {"name": "trends"},
"mark": {"type": "line", "color": "#a346a3", "strokeWidth": 1.4},
"encoding": {
"x": {"field": "k", "type": "quantitative", "scale": {"domain": [-7.38, 204.94], "nice": false, "zero": false, "padding": 0}, "axis": null},
"y": {"field": "v", "type": "quantitative", "scale": {"domain": [1.463, 13.685], "nice": false, "zero": false}, "axis": null},
"detail": {"field": "g"}
}
},
{
"data": {"name": "hsegs"},
"mark": {"type": "rule", "color": "#2424f0", "strokeWidth": 1.5},
"encoding": {
"x": {"field": "k", "type": "quantitative", "scale": {"domain": [-7.38, 204.94], "nice": false, "zero": false, "padding": 0}, "axis": null},
"x2": {"field": "k2"},
"y": {"field": "v", "type": "quantitative", "scale": {"domain": [1.463, 13.685], "nice": false, "zero": false}, "axis": null}
}
},
{
"data": {"name": "candles"},
"mark": {"type": "rule", "strokeWidth": 1},
"encoding": {
"x": {"field": "k", "type": "quantitative", "scale": {"domain": [-7.38, 204.94], "nice": false, "zero": false, "padding": 0}, "axis": null},
"y": {"field": "l", "type": "quantitative", "scale": {"domain": [1.463, 13.685], "nice": false, "zero": false},
"axis": {"orient": "left", "values": [2,4,6,8,10,12], "grid": true, "gridColor": "#e2e2e2", "domain": false, "ticks": false, "labelPadding": 8, "labelFontSize": 13, "labelColor": "#808080", "labelFont": "DejaVu Sans", "title": null}},
"y2": {"field": "h"},
"stroke": {"condition": [{"test": "datum.x == 1", "value": "#ff8c00"}, {"test": "datum.c >= datum.o", "value": "#228b22"}], "value": "#b22222"}
}
},
{
"data": {"name": "candles"},
"mark": {"type": "bar", "size": 3},
"encoding": {
"x": {"field": "k", "type": "quantitative", "scale": {"domain": [-7.38, 204.94], "nice": false, "zero": false, "padding": 0}, "axis": null},
"y": {"field": "o", "type": "quantitative", "scale": {"domain": [1.463, 13.685], "nice": false, "zero": false},
"axis": {"orient": "right", "values": [2,4,6,8,10,12], "grid": false, "domain": false, "ticks": false, "labelPadding": 15, "labelFontSize": 13, "labelColor": "#808080", "labelFont": "DejaVu Sans", "title": null}},
"y2": {"field": "c"},
"fill": {"condition": [{"test": "datum.x == 1", "value": "#ff8c00"}, {"test": "datum.c >= datum.o", "value": "#228b22"}], "value": "#b22222"}
}
},
{
"data": {"name": "vmarks"},
"mark": {"type": "rule", "color": "#1414ff", "strokeWidth": 2.5},
"encoding": {
"x": {"field": "k", "type": "quantitative", "scale": {"domain": [-7.38, 204.94], "nice": false, "zero": false, "padding": 0}, "axis": null},
"y": {"field": "v", "type": "quantitative", "scale": {"domain": [1.463, 13.685], "nice": false, "zero": false}, "axis": null},
"y2": {"field": "v2"}
}
},
{
"data": {"values": [{"k": 215.4, "v": 13.25, "t": "KULR 2026.03.12 00:00:00 $2.82 0.00% vol:848.8K 0.5x"}]},
"mark": {"type": "text", "align": "right", "baseline": "middle", "font": "DejaVu Sans", "fontSize": 13.8, "color": "#1a1a96"},
"encoding": {
"x": {"field": "k", "type": "quantitative", "scale": {"domain": [-7.38, 204.94], "nice": false, "zero": false, "padding": 0}, "axis": null},
"y": {"field": "v", "type": "quantitative", "scale": {"domain": [1.463, 13.685], "nice": false, "zero": false}, "axis": null},
"text": {"field": "t"}
}
},
{
"data": {"values": [{"k": 84.6, "v": 13.25, "t": "cafata.com"}]},
"mark": {"type": "text", "align": "center", "baseline": "middle", "font": "DejaVu Sans", "fontWeight": "bold", "fontSize": 17, "color": "#d4d4d4"},
"encoding": {
"x": {"field": "k", "type": "quantitative", "scale": {"domain": [-7.38, 204.94], "nice": false, "zero": false, "padding": 0}, "axis": null},
"y": {"field": "v", "type": "quantitative", "scale": {"domain": [1.463, 13.685], "nice": false, "zero": false}, "axis": null},
"text": {"field": "t"}
}
}
],
"resolve": {"axis": {"y": "independent"}, "scale": {"color": "independent", "stroke": "independent", "fill": "independent"}}
}
